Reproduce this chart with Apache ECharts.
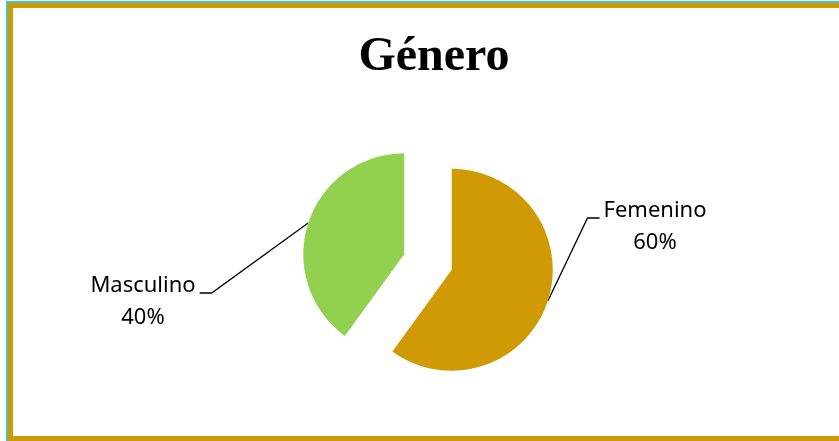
<!DOCTYPE html>
<html>
<head>
<meta charset="utf-8">
<script src="https://cdn.jsdelivr.net/npm/echarts@6/dist/echarts.min.js"></script>
<style>
  html, body { margin: 0; padding: 0; background: #fff; }
  #chart { width: 839px; height: 441px; }
</style>
</head>
<body>
<div id="chart"></div>
<script>
// datos del gráfico
const titleText = "Género";
const categories = ["Femenino", "Masculino"];
const values = [60, 40];
const colors = ["#CF9A04", "#92D050"];

// layout
const baseCenter = [428, 262];
const radius = 101;
const explode = 25;
const labelCenters = [[655, 227], [143, 302]];

const total = values.reduce((a, b) => a + b, 0);

function sliceCenter(i) {
  let before = 0;
  for (let j = 0; j < i; j++) before += values[j];
  const mid = ((before + values[i] / 2) / total) * 2 * Math.PI;
  return [
    baseCenter[0] + Math.sin(mid) * explode,
    baseCenter[1] - Math.cos(mid) * explode,
  ];
}

function labelLayout(params) {
  const i = params.dataIndex;
  if (i !== params.seriesIndex || !params.labelLinePoints) return {};
  const x = labelCenters[i][0];
  const y = labelCenters[i][1];
  const w = params.labelRect.width;
  const right = x > baseCenter[0];
  const endX = right ? x - w / 2 - 4 : x + w / 2 + 4;
  const bendX = right ? endX - 12 : endX + 12;
  const lineY = y - 9;
  const pts = [params.labelLinePoints[0], [bendX, lineY], [endX, lineY]];
  return { x: x, y: y, align: "center", verticalAlign: "middle", labelLinePoints: pts };
}

// una serie por porción, para separar los sectores
const series = categories.map((name, i) => ({
  type: "pie",
  silent: true,
  center: sliceCenter(i),
  radius: radius,
  startAngle: 90,
  clockwise: true,
  avoidLabelOverlap: false,
  emphasis: { disabled: true },
  label: {
    position: "outside",
    formatter: "{b}\n{d}%",
    fontFamily: "Noto Sans",
    fontSize: 22,
    lineHeight: 32,
    color: "#000",
  },
  labelLine: {
    lineStyle: { color: "#000", width: 1.3 },
  },
  labelLayout: labelLayout,
  data: categories.map((n, j) => ({
    name: n,
    value: values[j],
    itemStyle: { color: j === i ? colors[j] : "rgba(0,0,0,0)" },
    label: { show: j === i },
    labelLine: { show: j === i },
  })),
}));

const myChart = echarts.init(document.getElementById("chart"));
const option = {
  animation: false,
  backgroundColor: "#fff",
  title: {
    text: titleText,
    left: 429,
    top: 29,
    textAlign: "center",
    textStyle: {
      fontFamily: "Liberation Serif",
      fontWeight: "bold",
      fontSize: 48,
      color: "#000",
    },
  },
  graphic: [
    {
      type: "rect",
      shape: { x: 7, y: 2, width: 1000, height: 1000 },
      style: { fill: null, stroke: "#3FC6C6", lineWidth: 2 },
      silent: true,
    },
    {
      type: "rect",
      shape: { x: 10.5, y: 5.5, width: 1000, height: 433 },
      style: { fill: null, stroke: "#CF9A04", lineWidth: 5 },
      silent: true,
    },
  ],
  series: series,
};
myChart.setOption(option);
</script>
</body>
</html>
